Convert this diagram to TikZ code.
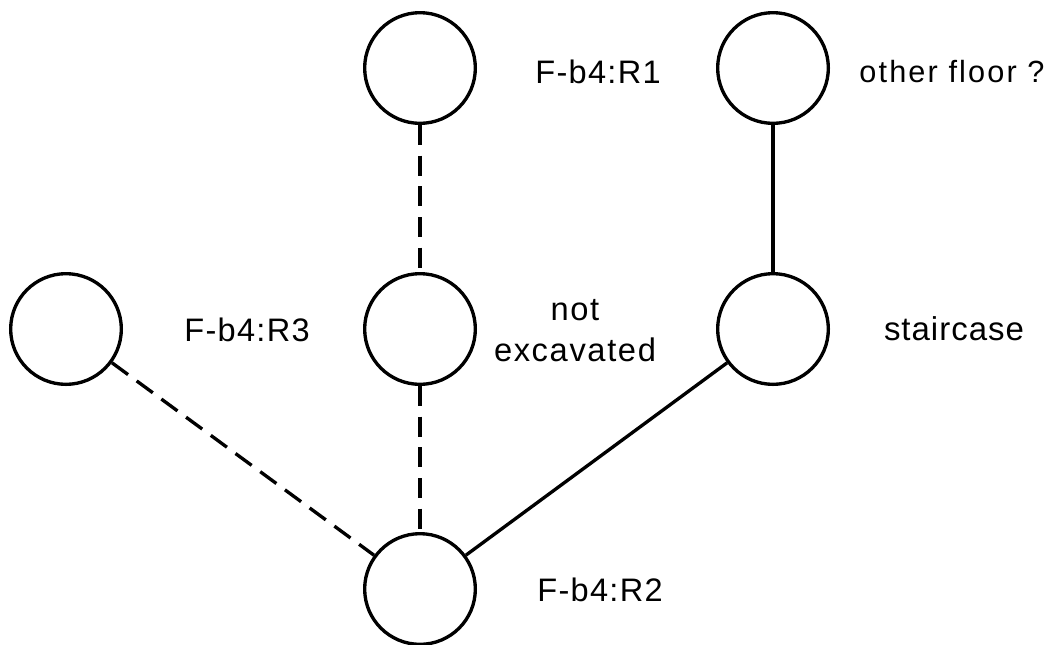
\documentclass[tikz,border=0pt]{standalone}
\usepackage{fontspec}
\setmainfont{Liberation Sans}
\begin{document}
\begin{tikzpicture}[x=0.75pt,y=-0.75pt,
  room/.style={circle,draw,line width=2.5pt,minimum size=83pt,inner sep=0pt},
  lab/.style 2 args={font=\fontsize{#1}{30.75}\selectfont\addfontfeature{LetterSpace=#2},
    align=center,inner sep=0pt,anchor=base},
  link/.style={line width=2.5pt},
  dlink/.style={line width=2.5pt,dash pattern=on 15pt off 8pt}]
\useasboundingbox (0,0) rectangle (1052,644);
\node[room] (r1) at (420,68) {};
\node[room] (of) at (773,68) {};
\node[room] (r3) at (66,329) {};
\node[room] (ne) at (420,329) {};
\node[room] (st) at (773,329) {};
\node[room] (r2) at (420,589) {};
\node[lab={24.4}{4}] (l1) at (598,83) {F-b4:R1};
\node[lab={23}{7}] (lof) at (952,82.3) {other floor ?};
\node[lab={24.4}{4}] (l3) at (247,341.7) {F-b4:R3};
\node[lab={24.5}{5}] (lne) at (575,361.7) {not\\excavated};
\node[lab={24.75}{3}] (lst) at (954,340.7) {staircase};
\node[lab={24.4}{4}] (l2) at (600,601.7) {F-b4:R2};
\draw[dlink] (r1) -- (ne);
\draw[dlink] (ne) -- (r2);
\draw[dlink] (r3) -- (r2);
\draw[link] (of) -- (st);
\draw[link] (st) -- (r2);
\end{tikzpicture}
\end{document}
